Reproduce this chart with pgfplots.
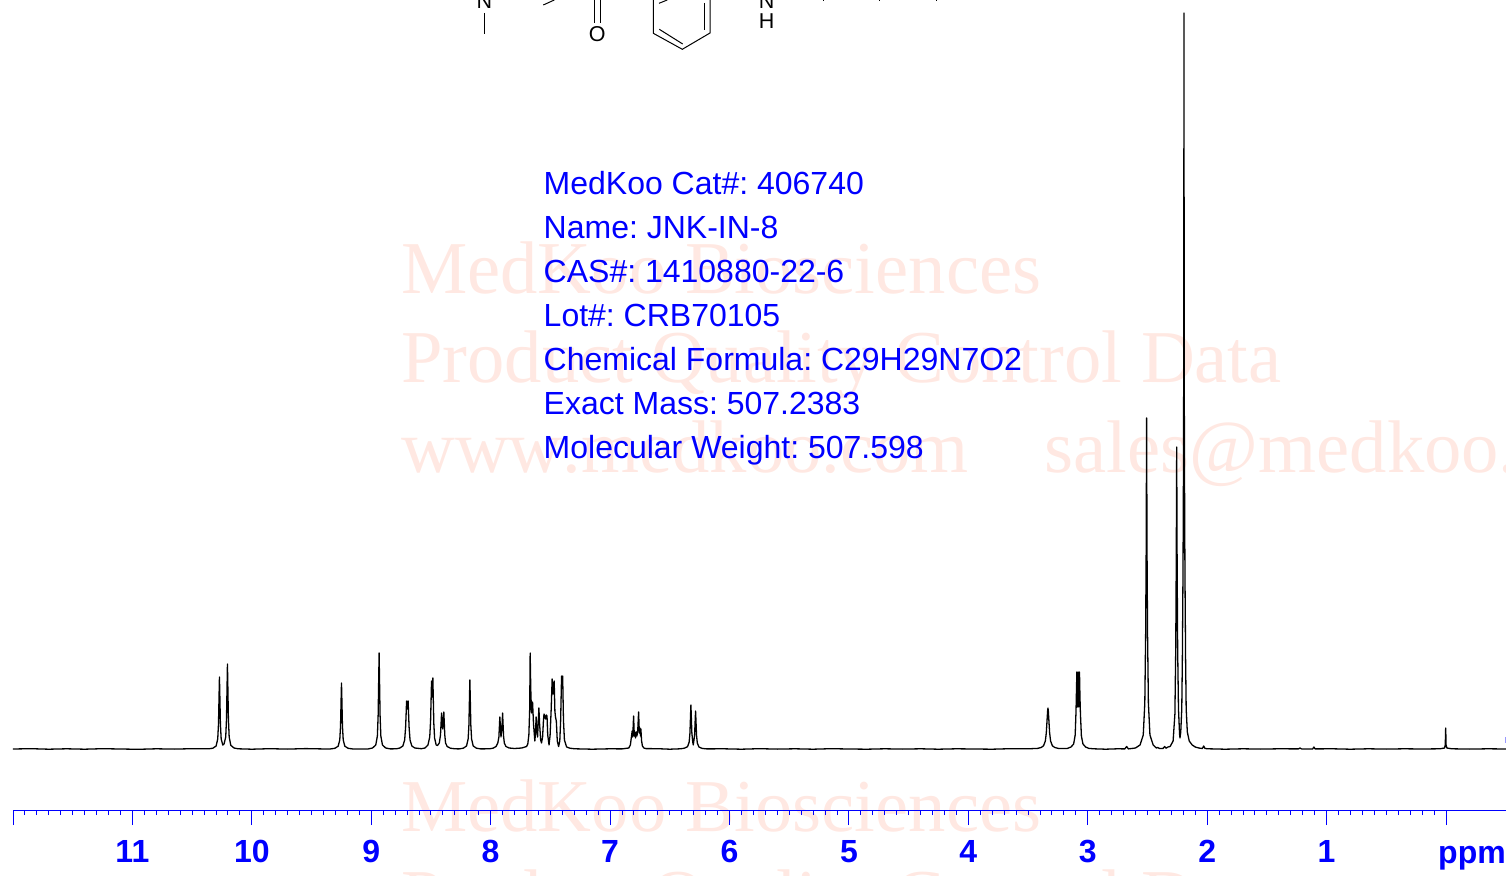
\documentclass[border=0pt]{standalone}
\usepackage{pgfplots}
\pgfplotsset{compat=1.18}
\usepackage{fontspec}
\setmainfont{Liberation Sans}
\newfontfamily\wmfont[Kerning=Off]{Liberation Serif}
\definecolor{wm}{RGB}{255,232,226}
\frenchspacing
\begin{document}
\begin{tikzpicture}[x=1pt,y=1pt]
\path[use as bounding box] (0,0) rectangle (1506,875);
\clip (0,0) rectangle (1506,875);
% watermark (pixel layout: y up = 875 - py)
\begin{scope}[every node/.style={anchor=base west,inner sep=0pt,text=wm,font=\wmfont\fontsize{74.6}{74.6}\selectfont}]
\node at (401,581) {MedKoo Biosciences};
\node at (401,492) {Product Quality Control Data};
\node at (401,402) {www.medkoo.com\hspace{76pt}sales@medkoo.com};
\node at (401,44) {MedKoo Biosciences};
\node at (401,-46) {Product Quality Control Data};
\end{scope}
% fragment of the structure, cut by the top edge
\begin{scope}[line width=1pt,black]
\draw (484.5,862) -- (484.5,841);
\draw (543.3,870) -- (554.3,875);
\draw (594.3,875) -- (594.3,852.3);
\draw (600,875) -- (600,852.3);
\draw (653.3,875) -- (653.3,841.7) -- (682.3,825.7) -- (710,842) -- (710,875);
\draw (704.3,872) -- (704.3,845);
\draw (659.3,845.7) -- (682.7,831);
\draw (659,871.7) -- (667.3,875);
\draw (823.3,875) -- (823.3,874);
\draw (879.3,875) -- (879.3,874);
\draw (936,875) -- (936,874);
\end{scope}
\begin{scope}[every node/.style={anchor=base,inner sep=0pt,text=black,font=\fontsize{21.5}{21.5}\selectfont}]
\node at (484.5,866) {N};
\node at (597.3,833) {O};
\node at (766.7,866) {N};
\node at (766.7,846.5) {H};
\end{scope}
\begin{axis}[
  at={(13pt,65pt)},anchor=south west,
  scale only axis,width=1493pt,height=810pt,
  x dir=reverse,xmin=-0.5025,xmax=12.0,ymin=-61,ymax=749,
  axis x line=bottom,axis y line=none,
  axis line style={blue,line width=1pt,-},
  xtick={12,11,10,9,8,7,6,5,4,3,2,1,0},
  xticklabels={{},11,10,9,8,7,6,5,4,3,2,1,{}},
  minor x tick num=9,
  xtick align=outside,
  major tick length=15pt,minor tick length=5pt,
  every tick/.style={blue,line width=0.9pt},
  xticklabel style={anchor=base,yshift=-37pt,text=blue,font=\bfseries\fontsize{32}{32}\selectfont,inner sep=0pt},
]
\addplot[black,line width=1.3pt,line join=round,no marks] coordinates {
(12.00,0)(11.85,.3)(11.7,-.2)(11.55,.2)(11.4,-.2)(11.25,.3)(11.1,0)(10.95,-.3)(10.8,.2)(10.65,-.1)(10.5,.3)
(10.36,.2)(10.326,.8)(10.299,3)(10.2855,10)(10.279,25)(10.2745,52)(10.271,72)(10.2675,52)(10.263,25)(10.2565,10)
(10.243,4)(10.2325,5)(10.2185,12)(10.212,30)(10.2075,61)(10.204,85)(10.2005,61)(10.196,30)(10.1895,12)(10.176,3.7)(10.149,1)(10.114,.2)
(10.0,-.2)(9.85,.3)(9.7,-.1)(9.55,.4)(9.42,.1)
(9.339,.1)(9.304,.7)(9.277,2.8)(9.2635,9)(9.257,23)(9.2525,48)(9.249,66)(9.2455,48)(9.241,23)(9.2345,9)(9.221,2.8)(9.194,.7)(9.159,.1)
(9.024,.1)(8.989,1)(8.962,4)(8.9485,13)(8.942,34)(8.9375,69)(8.934,96)(8.9305,69)(8.926,34)(8.9195,13)(8.906,4)(8.879,1)(8.84,.1)
(8.79,.2)(8.76,1)(8.735,3)(8.72,9)(8.712,22)(8.7075,36)(8.704,48)(8.6975,40)(8.691,48)(8.6875,36)(8.683,22)(8.675,9)(8.66,3)(8.635,1)
(8.58,.3)(8.55,1)(8.525,4)(8.51,12)(8.503,28)(8.4985,50)(8.495,68)(8.4895,52)(8.484,71)(8.4805,52)(8.476,26)(8.4695,11)
(8.456,4)(8.445,3.5)(8.43,6)(8.42,14)(8.4145,27)(8.411,36)(8.406,27)(8.4015,20)(8.397,26)(8.392,37)(8.3885,27)(8.384,14)(8.3775,6)(8.364,2.5)(8.337,.8)(8.3,.2)
(8.264,.1)(8.229,.8)(8.202,3)(8.1885,10)(8.182,24)(8.1775,50)(8.174,69)(8.1705,50)(8.166,24)(8.1595,10)(8.146,3)(8.119,.8)(8.084,.1)
(8.01,.2)(7.98,.8)(7.955,2.5)(7.94,6)(7.931,12)(7.9265,23)(7.923,32)(7.918,22)(7.9135,12)(7.909,17)(7.9035,26)(7.900,36)(7.8965,26)(7.892,13)(7.8855,6)(7.872,2.5)(7.845,1)(7.8,.5)
(7.74,1)(7.699,2.5)(7.689,5)(7.680,14)(7.673,40)(7.669,96)(7.664,60)(7.658,36)(7.653,44)(7.649,47)(7.641,25)(7.630,8)(7.625,15)(7.619,32)(7.612,17)(7.607,12)(7.601,28)(7.596,41)(7.590,25)(7.581,9)(7.574,6)(7.565,12)(7.558,28)(7.553,35)(7.547,33)(7.540,30)(7.534,34)(7.528,33)(7.522,14)(7.511,4)(7.502,14)(7.493,40)(7.485,70)(7.477,55)(7.468,68)(7.462,38)(7.457,32)(7.450,28)(7.442,8)(7.431,2.5)(7.421,8)(7.414,28)(7.406,73)(7.402,62)(7.397,73)(7.390,28)(7.382,9)(7.364,2)(7.336,.8)(7.294,.2)
(7.15,-.2)(7.0,.2)(6.9,.1)
(6.843,1)(6.830,4)(6.819,14)(6.815,18)(6.810,12)(6.803,33)(6.797,13)(6.792,17)(6.787,11)(6.780,17)(6.775,13)(6.768,19)(6.761,37)(6.755,16)(6.750,21)(6.745,13)(6.742,20)(6.736,8)(6.729,3)(6.717,1)(6.700,.4)
(6.6,.3)(6.5,-.2)
(6.41,.2)(6.378,.8)(6.351,2.3)(6.3375,7)(6.331,16)(6.3265,32)(6.323,44)(6.3195,32)(6.315,16)(6.3085,8)(6.3035,4)(6.2985,8)(6.292,14)(6.2875,28)(6.284,38)(6.2805,28)(6.276,14)(6.2695,6)(6.256,2)(6.229,.6)(6.19,.1)
(6.05,.2)(5.9,-.2)(5.75,.3)(5.6,-.1)(5.45,.2)(5.3,-.2)(5.15,.3)(5.0,0)(4.85,-.2)(4.7,.2)(4.55,-.1)(4.4,.2)(4.25,-.2)(4.1,.2)(3.95,0)(3.8,-.2)(3.65,.3)(3.5,.2)
(3.42,.6)(3.39,1.5)(3.37,3.2)(3.355,8)(3.347,16)(3.34,30)(3.336,38)(3.333,41)(3.33,38)(3.326,30)(3.319,16)(3.311,8)(3.296,3.2)(3.276,1.5)(3.246,.6)(3.21,.6)
(3.17,.6)(3.14,2)(3.118,5)(3.105,14)(3.098,38)(3.095,55)(3.091,77)(3.0855,42)(3.080,77)(3.0745,42)(3.069,77)(3.065,52)(3.061,35)(3.053,13)(3.04,5)(3.018,2)(2.99,.6)(2.95,.2)
(2.85,-.2)(2.75,.2)(2.69,.1)(2.674,2.5)(2.66,.1)
(2.6,1)(2.562,4)(2.535,14)(2.522,46)(2.515,115)(2.5105,200)(2.507,331)(2.5035,200)(2.499,115)(2.492,46)(2.479,14)(2.452,4)(2.425,1)(2.415,1.5)(2.40,.6)
(2.37,.5)(2.356,2.5)(2.345,.8)(2.328,2)
(2.31,2.5)(2.285,8)(2.27,35)(2.263,100)(2.2585,190)(2.255,302)(2.2515,190)(2.247,100)(2.24,40)(2.231,15)(2.2275,11)
(2.221,17)(2.2125,40)(2.2075,90)(2.202,180)(2.1975,300)(2.1955,450)(2.194,736)(2.1925,450)(2.1905,300)(2.186,180)(2.1805,90)(2.1755,40)(2.166,17)(2.15,8)(2.125,4)(2.10,2)(2.07,1)(2.04,.5)(2.029,3)(2.018,.5)(1.99,.2)
(1.85,-.2)(1.7,.2)(1.55,-.1)(1.4,.2)(1.235,.1)(1.223,1)(1.21,.1)(1.116,.1)(1.106,2)(1.096,.1)
(.95,.2)(.8,-.2)(.65,.2)(.5,-.1)(.35,.2)(.2,0)(.05,.2)
(.012,1)(.006,4)(.004,14)(.0025,21)(.001,14)(-.001,4)(-.007,1)
(-.05,.2)(-.2,-.1)(-.35,.2)(-.5025,0)
};
\end{axis}
\draw[blue!40,line width=1pt] (1505.5,132) -- (1505.5,138);
\node[anchor=base west,inner sep=0pt,text=blue,font=\bfseries\fontsize{32}{32}\selectfont] at (1438,12) {ppm};
\begin{scope}[every node/.style={anchor=base west,inner sep=0pt,text=blue,font=\fontsize{32}{32}\selectfont}]
\node at (543.5,680.5) {MedKoo Cat\#: 406740};
\node at (543.5,636.5) {Name: JNK-IN-8};
\node at (543.5,592.5) {CAS\#: 1410880-22-6};
\node at (543.5,548.5) {Lot\#: CRB70105};
\node at (543.5,504.5) {Chemical Formula: C29H29N7O2};
\node at (543.5,460.5) {Exact Mass: 507.2383};
\node at (543.5,416.5) {Molecular Weight: 507.598};
\end{scope}
\end{tikzpicture}
\end{document}
